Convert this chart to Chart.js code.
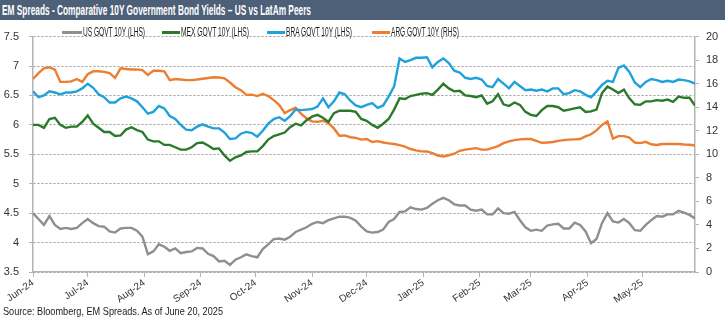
<!DOCTYPE html>
<html>
<head>
<meta charset="utf-8">
<script src="https://cdn.jsdelivr.net/npm/chart.js@4.4.1/dist/chart.umd.min.js"></script>
<style>
  body { margin: 0; background: #fff; font-family: "Liberation Sans", Arial, sans-serif; }
  #wrap { position: relative; width: 725px; height: 323px; overflow: hidden; }
  #title { position: absolute; left: 0; top: 0; width: 725px; height: 20px; background: #4e5f78; }
  #title span { position: absolute; left: 2px; top: 1px; color: #fff; font-weight: bold; font-size: 14px; line-height: 18px; white-space: nowrap; transform-origin: left center; }
  #box { position: absolute; left: 0; top: 20px; width: 725px; height: 303px; }
  .lg { position: absolute; top: 26px; height: 12px; }
  .lg i { position: absolute; left: 0; top: 5px; height: 3px; }
  .lg span { position: absolute; top: -1px; font-size: 12px; line-height: 14px; color: #1a1a1a; white-space: nowrap; transform-origin: left center; }
  #src { position: absolute; left: 3px; top: 305px; font-size: 10.5px; line-height: 12px; color: #1a1a1a; white-space: nowrap; transform-origin: left center; }
</style>
</head>
<body>
<div id="wrap">
  <div id="title"><span data-w="309">EM Spreads - Comparative 10Y Government Bond Yields – US vs LatAm Peers</span></div>
  <div id="box"><canvas id="canvas_chart"></canvas></div>
  <div id="src" data-w="220">Source: Bloomberg, EM Spreads. As of June 20, 2025</div>
</div>
<script>
// month ticks (days since 1 Jun 2024)
const monthLabels = ['Jun-24', 'Jul-24', 'Aug-24', 'Sep-24', 'Oct-24', 'Nov-24', 'Dec-24', 'Jan-25', 'Feb-25', 'Mar-25', 'Apr-25', 'May-25'];
const monthDays = [0, 30, 61, 92, 122, 153, 183, 214, 245, 273, 304, 334];

// one reading every 3 days, 1 Jun 2024 -> 30 May 2025
const us = [
    4.50, 4.40, 4.30, 4.45, 4.30, 4.23, 4.25, 4.23, 4.25, 4.33, 4.40, 4.33, 4.28, 4.27, 4.19, 4.17, 4.24, 4.25, 4.25, 4.20, 4.10, 3.80, 3.85, 3.97, 3.93, 3.86, 3.90, 3.82, 3.84, 3.85, 3.91,
    3.90, 3.81, 3.77, 3.68, 3.69, 3.62, 3.71, 3.75, 3.80, 3.77, 3.75, 3.89, 3.97, 4.06, 4.07, 4.05, 4.10, 4.18, 4.22, 4.26, 4.32, 4.35, 4.33, 4.38, 4.41, 4.44, 4.44, 4.42, 4.37, 4.27, 4.19,
    4.17, 4.18, 4.22, 4.35, 4.40, 4.52, 4.53, 4.60, 4.57, 4.56, 4.59, 4.66, 4.72, 4.76, 4.72, 4.65, 4.63, 4.63, 4.56, 4.54, 4.56, 4.48, 4.48, 4.58, 4.50, 4.49, 4.52, 4.38, 4.26, 4.20,
    4.22, 4.20, 4.29, 4.31, 4.32, 4.24, 4.24, 4.34, 4.30, 4.19, 3.99, 4.06, 4.33, 4.50, 4.36, 4.34, 4.40, 4.33, 4.21, 4.20, 4.30, 4.38, 4.45, 4.44, 4.48, 4.48, 4.54, 4.51, 4.47, 4.41
];
const mex = [
    6.00, 6.00, 5.95, 6.10, 6.12, 6.00, 5.95, 5.97, 5.97, 6.05, 6.16, 6.02, 5.95, 5.88, 5.88, 5.81, 5.82, 5.92, 5.96, 5.91, 5.88, 5.75, 5.72, 5.72, 5.66, 5.66, 5.62, 5.58, 5.58, 5.62, 5.69,
    5.70, 5.65, 5.59, 5.60, 5.48, 5.39, 5.45, 5.48, 5.54, 5.55, 5.55, 5.64, 5.75, 5.81, 5.84, 5.87, 5.96, 6.02, 5.99, 6.08, 6.14, 6.17, 6.12, 6.05, 6.20, 6.24, 6.24, 6.24, 6.22, 6.10, 6.07,
    6.00, 5.95, 6.02, 6.10, 6.26, 6.45, 6.44, 6.49, 6.51, 6.53, 6.54, 6.51, 6.60, 6.70, 6.62, 6.57, 6.58, 6.50, 6.49, 6.47, 6.50, 6.36, 6.40, 6.52, 6.35, 6.32, 6.38, 6.34, 6.22, 6.17,
    6.15, 6.25, 6.32, 6.32, 6.30, 6.24, 6.26, 6.28, 6.30, 6.22, 6.23, 6.26, 6.54, 6.65, 6.60, 6.54, 6.60, 6.45, 6.35, 6.34, 6.40, 6.40, 6.42, 6.41, 6.43, 6.39, 6.48, 6.46, 6.46, 6.33
];
const bra = [
    6.57, 6.47, 6.50, 6.57, 6.55, 6.52, 6.55, 6.55, 6.57, 6.62, 6.70, 6.63, 6.52, 6.47, 6.38, 6.38, 6.45, 6.48, 6.45, 6.40, 6.30, 6.19, 6.22, 6.32, 6.28, 6.15, 6.10, 6.00, 5.92, 5.91, 5.97,
    6.01, 5.97, 5.94, 5.94, 5.87, 5.76, 5.77, 5.85, 5.88, 5.86, 5.80, 5.90, 6.02, 6.10, 6.13, 6.07, 6.15, 6.26, 6.25, 6.26, 6.27, 6.31, 6.45, 6.30, 6.40, 6.55, 6.52, 6.41, 6.33, 6.30, 6.34,
    6.37, 6.29, 6.33, 6.48, 6.65, 7.13, 7.07, 7.10, 7.14, 7.14, 7.15, 6.98, 7.07, 7.13, 7.05, 6.92, 6.89, 6.80, 6.78, 6.80, 6.77, 6.66, 6.64, 6.78, 6.70, 6.62, 6.73, 6.66, 6.59, 6.60,
    6.58, 6.60, 6.57, 6.62, 6.62, 6.52, 6.54, 6.59, 6.57, 6.51, 6.47, 6.57, 6.68, 6.75, 6.73, 6.97, 7.01, 6.90, 6.72, 6.64, 6.73, 6.78, 6.76, 6.73, 6.75, 6.73, 6.77, 6.76, 6.74, 6.70
];
const arg = [
    16.4, 16.9, 17.3, 17.4, 17.2, 16.15, 16.15, 16.2, 16.4, 16.15, 16.8, 17.05, 17.05, 17.0, 16.9, 16.5, 17.3, 17.25, 17.2, 17.2, 17.15, 16.75, 17.1, 17.1, 17.05, 16.3, 16.4, 16.35, 16.3, 16.3, 16.35,
    16.42, 16.48, 16.55, 16.52, 16.45, 16.1, 15.7, 15.45, 15.05, 15.07, 14.95, 15.15, 14.95, 14.6, 14.2, 13.5, 13.75, 13.95, 13.45, 13.05, 12.8, 12.76, 12.85, 12.65, 12.2, 11.58, 11.6, 11.45, 11.4, 11.25, 11.3,
    11.05, 11.12, 11.0, 10.93, 10.87, 10.78, 10.65, 10.45, 10.33, 10.25, 10.24, 10.1, 9.9, 9.82, 9.92, 10.05, 10.3, 10.4, 10.46, 10.52, 10.4, 10.4, 10.55, 10.7, 10.95, 11.1, 11.2, 11.27, 11.3, 11.3,
    11.14, 10.98, 11.0, 11.05, 11.14, 11.2, 11.25, 11.27, 11.3, 11.52, 11.7, 12.03, 12.5, 12.8, 11.33, 11.54, 11.54, 11.41, 11.0, 10.95, 11.06, 10.85, 10.79, 10.87, 10.87, 10.87, 10.87, 10.83, 10.81, 10.75
];

const leftTicks = [3.5, 4, 4.5, 5, 5.5, 6, 6.5, 7, 7.5];
const rightTicks = [0, 2, 4, 6, 8, 10, 12, 14, 16, 18, 20];

const pts = (vals) => vals.map((v, i) => ({ x: i * 3, y: v }));

const axisGrey = '#b4b4b4';
const tickFont = { family: '"Liberation Sans", Arial, sans-serif', size: 11 };

const ctx = document.getElementById('canvas_chart');
const chart = new Chart(ctx, {
    type: 'line',
    data: {
        datasets: [
            { label: 'US GOVT 10Y (LHS)', data: pts(us), borderColor: '#8f8f8f', yAxisID: 'y' },
            { label: 'MEX GOVT 10Y (LHS)', data: pts(mex), borderColor: '#2a7a2a', yAxisID: 'y' },
            { label: 'BRA GOVT 10Y (LHS)', data: pts(bra), borderColor: '#1fa2dc', yAxisID: 'y' },
            { label: 'ARG GOVT 10Y (RHS)', data: pts(arg), borderColor: '#ed7d31', yAxisID: 'y1' }
        ]
    },
    options: {
        responsive: false,
        animation: false,
        maintainAspectRatio: false,
        layout: { padding: { top: 6, left: 0, right: 0, bottom: 0 } },
        elements: {
            line: { borderWidth: 2.4, tension: 0 },
            point: { radius: 0 }
        },
        plugins: { legend: { display: false }, tooltip: { enabled: false } },
        scales: {
            x: {
                type: 'linear',
                min: 0,
                max: 363,
                afterBuildTicks: (axis) => { axis.ticks = monthDays.map(v => ({ value: v })); },
                afterFit: (axis) => { axis.height = 51; },
                ticks: {
                    autoSkip: false,
                    minRotation: 35,
                    maxRotation: 35,
                    padding: 0,
                    color: '#333',
                    font: { family: tickFont.family, size: 10 },
                    callback: (v) => monthLabels[monthDays.indexOf(v)]
                },
                grid: { drawOnChartArea: false, drawTicks: true, tickLength: 5, tickColor: axisGrey },
                border: { display: true, color: axisGrey, width: 1.5 }
            },
            y: {
                position: 'left',
                min: 3.5,
                max: 7.5,
                afterBuildTicks: (axis) => { axis.ticks = leftTicks.map(v => ({ value: v })); },
                afterFit: (axis) => { axis.width = 33; },
                ticks: { color: '#333', font: tickFont, padding: 10, callback: (v) => String(v) },
                grid: { color: '#9a9a9a', lineWidth: 1, tickLength: 4, tickColor: axisGrey },
                border: { display: true, color: axisGrey, width: 1.5, dash: [2, 2] }
            },
            y1: {
                position: 'right',
                min: 0,
                max: 20,
                afterBuildTicks: (axis) => { axis.ticks = rightTicks.map(v => ({ value: v })); },
                afterFit: (axis) => { axis.width = 30; },
                ticks: { color: '#333', font: tickFont, padding: 7, callback: (v) => String(v) },
                grid: { drawOnChartArea: false, tickLength: 4, tickColor: axisGrey },
                border: { display: true, color: axisGrey, width: 1.5 }
            }
        }
    }
});
chart.resize(725, 303);

// legend drawn as html over the plot
const lgLeft = [62, 162, 267, 372];
const lgLine = [20, 18, 18, 18];
const lgTextW = [62, 68, 66, 68];
chart.data.datasets.forEach((ds, i) => {
    const item = document.createElement('div');
    item.className = 'lg';
    item.style.left = lgLeft[i] + 'px';
    const sw = document.createElement('i');
    sw.style.width = lgLine[i] + 'px';
    sw.style.background = ds.borderColor;
    const t = document.createElement('span');
    t.textContent = ds.label;
    t.style.left = (lgLine[i] + 1) + 'px';
    t.dataset.w = lgTextW[i];
    item.appendChild(sw);
    item.appendChild(t);
    document.getElementById('wrap').appendChild(item);
});

// squeeze the narrow-looking texts to their widths
document.querySelectorAll('[data-w]').forEach(el => {
    const w = el.getBoundingClientRect().width;
    if (w > 0) el.style.transform = 'scaleX(' + (el.dataset.w / w) + ')';
});
</script>
</body>
</html>
